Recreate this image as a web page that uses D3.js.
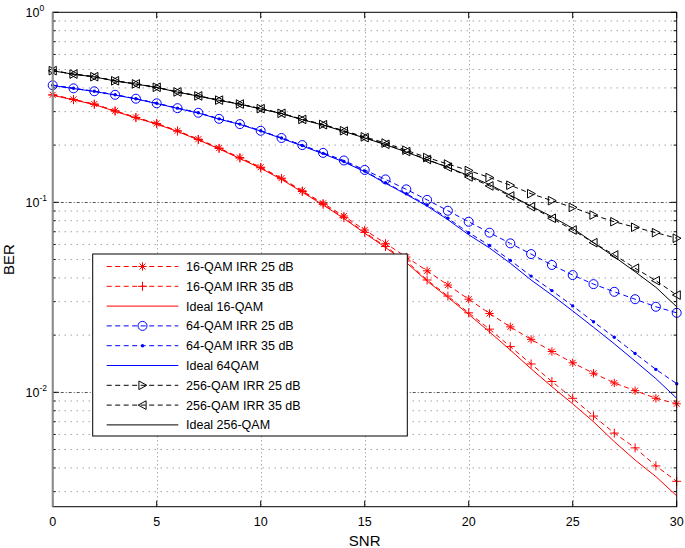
<!DOCTYPE html>
<html><head><meta charset="utf-8">
<script src="https://cdn.jsdelivr.net/npm/d3@7"></script>
<style>body{margin:0;background:#fff} svg{display:block;font-family:"Liberation Sans",Arial,sans-serif}</style>
</head><body>
<svg id="c" width="685" height="548"></svg>
<script>
const snr = [0,1,2,3,4,5,6,7,8,9,10,11,12,13,14,15,16,17,18,19,20,21,22,23,24,25,26,27,28,29,30];
const qam16_irr25 = [0.368,0.348,0.329,0.303,0.28,0.26,0.238,0.215,0.193,0.172,0.153,0.134,0.115,0.0988,0.0847,0.0715,0.0608,0.0515,0.0436,0.0367,0.0309,0.026,0.0221,0.019,0.0164,0.0143,0.0126,0.0112,0.0102,0.0093,0.0087];
const qam16_irr35 = [0.367,0.347,0.328,0.302,0.279,0.259,0.237,0.214,0.192,0.171,0.152,0.133,0.114,0.0975,0.083,0.0695,0.0585,0.0491,0.039,0.0321,0.0262,0.0215,0.0174,0.0141,0.0114,0.0093,0.0075,0.0061,0.0051,0.0041,0.0034];
const qam16_ideal = [0.366,0.346,0.327,0.301,0.278,0.258,0.236,0.213,0.191,0.170,0.151,0.132,0.113,0.0968,0.0822,0.0688,0.0578,0.0482,0.0385,0.0316,0.0257,0.0208,0.0167,0.0133,0.0107,0.0087,0.0070,0.0055,0.0044,0.0036,0.00285];
const qam64_irr25 = [0.413,0.398,0.384,0.368,0.351,0.332,0.313,0.296,0.275,0.258,0.238,0.218,0.2,0.182,0.166,0.148,0.132,0.117,0.103,0.0903,0.079,0.0692,0.0608,0.0534,0.0468,0.0414,0.0371,0.0338,0.0309,0.0282,0.0262];
const qam64_irr35 = [0.413,0.398,0.384,0.368,0.351,0.332,0.313,0.296,0.275,0.258,0.238,0.218,0.199,0.181,0.164,0.146,0.127,0.111,0.0968,0.0824,0.0692,0.0593,0.0495,0.0409,0.0343,0.0285,0.0235,0.0195,0.016,0.0132,0.0111];
const qam64_ideal = [0.412,0.397,0.383,0.367,0.35,0.331,0.312,0.295,0.274,0.257,0.237,0.217,0.198,0.18,0.163,0.145,0.126,0.110,0.0955,0.081,0.0675,0.0575,0.0478,0.039,0.0325,0.0268,0.022,0.018,0.0146,0.0118,0.0093];
const qam256_irr25 = [0.493,0.473,0.458,0.436,0.42,0.403,0.381,0.363,0.345,0.329,0.311,0.294,0.273,0.257,0.238,0.221,0.205,0.188,0.172,0.159,0.147,0.135,0.123,0.111,0.102,0.094,0.0857,0.079,0.0739,0.0692,0.0647];
const qam256_irr35 = [0.493,0.473,0.458,0.436,0.42,0.403,0.381,0.363,0.345,0.329,0.311,0.294,0.273,0.256,0.237,0.219,0.202,0.185,0.168,0.153,0.136,0.122,0.108,0.0948,0.0824,0.0715,0.0613,0.0528,0.045,0.0387,0.0325];
const qam256_ideal = [0.492,0.472,0.457,0.435,0.419,0.402,0.38,0.362,0.344,0.328,0.31,0.293,0.272,0.255,0.236,0.218,0.201,0.184,0.167,0.153,0.138,0.124,0.109,0.0955,0.084,0.073,0.0613,0.0517,0.0431,0.0357,0.0282];
const seriesNames = ["16-QAM IRR 25 dB","16-QAM IRR 35 dB","Ideal 16-QAM","64-QAM IRR 25 dB","64-QAM IRR 35 dB","Ideal 64QAM","256-QAM IRR 25 dB","256-QAM IRR 35 dB","Ideal 256-QAM"];
const xTickValues = [0,5,10,15,20,25,30];
const yTickValues = [1,0.1,0.01];
const yTickExponents = ["0","-1","-2"];
const xLabel = "SNR", yLabel = "BER";

const series = [
  {name:seriesNames[0], data:qam16_irr25, color:"#ff0000", dash:true, marker:"star"},
  {name:seriesNames[1], data:qam16_irr35, color:"#ff0000", dash:true, marker:"plus"},
  {name:seriesNames[2], data:qam16_ideal, color:"#ff0000", dash:false, marker:null},
  {name:seriesNames[3], data:qam64_irr25, color:"#0000ff", dash:true, marker:"circle"},
  {name:seriesNames[4], data:qam64_irr35, color:"#0000ff", dash:true, marker:"dot"},
  {name:seriesNames[5], data:qam64_ideal, color:"#0000ff", dash:false, marker:null},
  {name:seriesNames[6], data:qam256_irr25, color:"#000000", dash:true, marker:"triR"},
  {name:seriesNames[7], data:qam256_irr35, color:"#000000", dash:true, marker:"triL"},
  {name:seriesNames[8], data:qam256_ideal, color:"#000000", dash:false, marker:null}
];

const svg = d3.select("#c");
const L=52.7, R=676.7, T=12.3, B=506.7;
const x = d3.scaleLinear().domain([0,30]).range([L,R]);
const y = d3.scaleLog().domain([0.0025,1]).range([B,T]);

// grid
const grid = svg.append("g");
const allY = y.ticks();
const minorY = allY.filter(v => !yTickValues.some(m => Math.abs(m-v)/m < 1e-6));
grid.selectAll(".gm").data(minorY).join("line")
  .attr("x1",L).attr("x2",R).attr("y1",d=>y(d)).attr("y2",d=>y(d))
  .attr("stroke","#777").attr("stroke-width",1).attr("stroke-dasharray","1,5");
grid.selectAll(".gM").data(yTickValues.slice(1)).join("line")
  .attr("x1",L).attr("x2",R).attr("y1",d=>Math.round(y(d))+0.5).attr("y2",d=>Math.round(y(d))+0.5)
  .attr("stroke","#555").attr("stroke-width",1).attr("stroke-dasharray","3,2,1,2");
grid.selectAll(".gx").data(xTickValues.slice(1,-1)).join("line")
  .attr("x1",d=>Math.round(x(d))+0.5).attr("x2",d=>Math.round(x(d))+0.5).attr("y1",T).attr("y2",B)
  .attr("stroke","#888").attr("stroke-width",1).attr("stroke-dasharray","1,3");

// ticks (inside, all four sides)
const tk = svg.append("g").attr("stroke","#000").attr("stroke-width",1);
xTickValues.forEach(v=>{
  const px = x(v);
  tk.append("line").attr("x1",px).attr("x2",px).attr("y1",B).attr("y2",B-6);
  tk.append("line").attr("x1",px).attr("x2",px).attr("y1",T).attr("y2",T+6);
});
allY.forEach(v=>{
  const major = yTickValues.some(m => Math.abs(m-v)/m < 1e-6);
  const len = major ? 6 : 3;
  const py = y(v);
  tk.append("line").attr("x1",L).attr("x2",L+len).attr("y1",py).attr("y2",py);
  tk.append("line").attr("x1",R).attr("x2",R-len).attr("y1",py).attr("y2",py);
});

// series
const line = d3.line().x((d,i)=>x(snr[i])).y(d=>y(d));
const plot = svg.append("g");
function drawMarker(g, type, cx, cy, color){
  const m = g.append("g").attr("transform",`translate(${cx},${cy})`);
  if(type==="star"){
    m.append("path").attr("d","M-4.2,0L4.2,0M0,-4.2L0,4.2M-3,-3L3,3M-3,3L3,-3").attr("stroke",color).attr("fill","none");
  } else if(type==="plus"){
    m.append("path").attr("d","M-4.5,0L4.5,0M0,-4.5L0,4.5").attr("stroke",color).attr("fill","none");
  } else if(type==="circle"){
    m.append("circle").attr("r",4.5).attr("stroke",color).attr("fill","none");
  } else if(type==="dot"){
    m.append("circle").attr("r",1.7).attr("fill",color);
  } else if(type==="triR"){
    m.append("path").attr("d","M-3.6,-4.3L4.3,0L-3.6,4.3Z").attr("stroke",color).attr("fill","none");
  } else if(type==="triL"){
    m.append("path").attr("d","M3.6,-4.3L-4.3,0L3.6,4.3Z").attr("stroke",color).attr("fill","none");
  }
}
series.forEach(s=>{
  plot.append("path").datum(s.data).attr("d",line)
    .attr("fill","none").attr("stroke",s.color).attr("stroke-width",1)
    .attr("stroke-dasharray", s.dash ? "5,3.5" : null);
  if(s.marker){
    s.data.forEach((v,i)=>drawMarker(plot, s.marker, x(snr[i]), y(v), s.color));
  }
});

// box
svg.append("rect").attr("x",L).attr("y",T).attr("width",R-L).attr("height",B-T)
  .attr("fill","none").attr("stroke","#000").attr("stroke-width",1);
svg.append("line").attr("x1",L).attr("x2",L).attr("y1",T).attr("y2",B)
  .attr("stroke","#8c8c8c").attr("stroke-width",2);

// tick labels
svg.append("g").selectAll("text").data(xTickValues).join("text")
  .attr("x",d=>x(d)).attr("y",526).attr("text-anchor","middle")
  .attr("font-size",12.5).text(d=>d);
const yl = svg.append("g").selectAll("text").data(yTickValues).join("text")
  .attr("x",25.5).attr("y",d=>y(d)+4.5).attr("text-anchor","start").attr("font-size",12.5);
yl.append("tspan").text("10");
yl.append("tspan").attr("dy",-6).attr("font-size",8.5).text((d,i)=>yTickExponents[i]);

svg.append("text").attr("x",(L+R)/2).attr("y",546).attr("text-anchor","middle").attr("font-size",15).text(xLabel);
svg.append("text").attr("transform",`translate(14,${(T+B)/2}) rotate(-90)`).attr("text-anchor","middle").attr("font-size",15).text(yLabel);

// legend
const lg = svg.append("g");
lg.append("rect").attr("x",92.7).attr("y",254).attr("width",314.6).attr("height",182)
  .attr("fill","#fff").attr("stroke","#000").attr("stroke-width",1);
series.forEach((s,i)=>{
  const cy = 266.5 + i*19.8;
  lg.append("line").attr("x1",106.7).attr("x2",178.3).attr("y1",cy).attr("y2",cy)
    .attr("stroke",s.color).attr("stroke-width",1).attr("stroke-dasharray", s.dash ? "5,3.5" : null);
  if(s.marker) drawMarker(lg, s.marker, 142.5, cy, s.color);
  lg.append("text").attr("x",186).attr("y",cy+4.5).attr("font-size",12.5).text(s.name);
});
</script>
</body></html>
